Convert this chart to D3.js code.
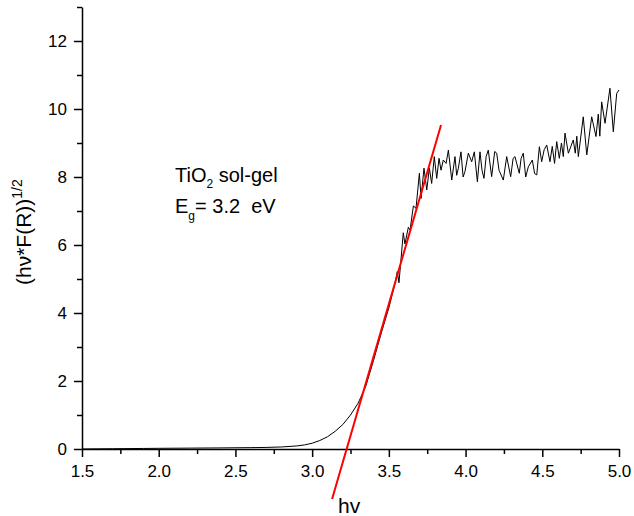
<!DOCTYPE html>
<html lang="en">
<head>
<meta charset="UTF-8">
<script src="https://d3js.org/d3.v7.min.js"></script>
<title>TiO2 band gap</title>
<style>
  body { margin: 0; background: #fff; }
  text { font-family: Arial, "Liberation Sans", sans-serif; fill: #000; }
</style>
</head>
<body>
<svg id="chart" width="634" height="516"></svg>
<script>
// photon energy (eV) and (hv*F(R))^1/2
const curveX = [1.5, 1.6, 1.7, 1.8, 1.9, 2.0, 2.2, 2.4, 2.6, 2.7, 2.8, 2.9, 2.95,
  3.0, 3.05, 3.1, 3.15, 3.2, 3.25, 3.3, 3.35, 3.4, 3.45, 3.5, 3.525,
  3.54, 3.555, 3.566, 3.594, 3.605, 3.627, 3.638, 3.66, 3.677, 3.699, 3.71,
  3.729, 3.747, 3.764, 3.779, 3.796, 3.812, 3.827, 3.84, 3.855, 3.873, 3.888,
  3.91, 3.931, 3.942, 3.953, 3.97, 3.984, 3.996, 4.018, 4.04, 4.057, 4.077, 4.094, 4.107, 4.12,
  4.134, 4.148, 4.17, 4.19, 4.203, 4.218, 4.246, 4.268, 4.294, 4.31, 4.322, 4.35, 4.362, 4.376, 4.392, 4.409,
  4.435, 4.45, 4.464, 4.481, 4.496, 4.512, 4.529, 4.55, 4.565, 4.58, 4.594, 4.611, 4.625, 4.637, 4.648, 4.67, 4.702,
  4.715, 4.725, 4.735, 4.767, 4.79, 4.822, 4.85, 4.865, 4.875, 4.887, 4.909, 4.941, 4.963, 4.985, 5.0];
const curveY = [0.0, 0.005, 0.008, 0.012, 0.016, 0.02, 0.026, 0.032, 0.04, 0.046, 0.06, 0.09, 0.12,
  0.17, 0.25, 0.36, 0.52, 0.72, 1.0, 1.35, 1.85, 2.6, 3.4, 4.15, 4.6,
  4.87, 5.22, 4.89, 6.36, 6.03, 6.52, 6.44, 7.15, 7.08, 8.11, 7.37,
  8.26, 7.62, 8.26, 7.81, 8.6, 7.96, 8.55, 8.2, 8.5, 8.4, 8.79,
  7.91, 8.6, 8.05, 8.26, 8.74, 8.0, 8.16, 8.7, 8.45, 8.74, 7.86, 8.74, 8.2, 7.96,
  8.6, 8.79, 8.01, 8.75, 8.7, 8.2, 7.91, 8.6, 8.01, 8.55, 8.6, 8.11, 8.55, 8.7, 8.0, 8.3,
  8.5, 8.1, 8.06, 8.89, 8.45, 8.8, 8.94, 8.45, 8.9, 8.4, 9.04, 8.55, 9.0, 8.6, 9.29, 8.7, 9.09,
  8.7, 9.2, 8.6, 9.77, 8.65, 9.77, 9.19, 9.85, 9.2, 10.21, 9.58, 10.61, 9.33, 10.46, 10.56];

// linear fit of the absorption edge (Eg = 3.2 eV)
const fitX = [3.13, 3.84];
const fitY = [-1.47, 9.53];

const xTicks = [1.5, 2.0, 2.5, 3.0, 3.5, 4.0, 4.5, 5.0];
const xMinor = [1.75, 2.25, 2.75, 3.25, 3.75, 4.25, 4.75];
const yTicks = [0, 2, 4, 6, 8, 10, 12];
const yMinor = [1, 3, 5, 7, 9, 11, 13];

const svg = d3.select("#chart");
const margin = { top: 7, right: 15, bottom: 67, left: 82 };
const w = 634 - margin.left - margin.right;
const h = 516 - margin.top - margin.bottom;

const x = d3.scaleLinear().domain([1.5, 5.0]).range([margin.left, margin.left + w]);
const y = d3.scaleLinear().domain([0, 13]).range([margin.top + h, margin.top]);

// minor ticks first, then the labelled axes on top
svg.append("g")
  .attr("transform", `translate(0,${margin.top + h})`)
  .call(d3.axisBottom(x).tickValues(xMinor).tickSize(5).tickFormat(""))
  .call(g => g.select(".domain").remove());
svg.append("g")
  .attr("transform", `translate(${margin.left},0)`)
  .call(d3.axisLeft(y).tickValues(yMinor).tickSize(5).tickFormat(""))
  .call(g => g.select(".domain").remove());

const xAxis = svg.append("g")
  .attr("transform", `translate(0,${margin.top + h})`)
  .call(d3.axisBottom(x).tickValues(xTicks).tickSize(8).tickSizeOuter(0)
    .tickPadding(8).tickFormat(d3.format(".1f")));
const yAxis = svg.append("g")
  .attr("transform", `translate(${margin.left},0)`)
  .call(d3.axisLeft(y).tickValues(yTicks).tickSize(8).tickSizeOuter(0)
    .tickPadding(7).tickFormat(d3.format("d")));

svg.selectAll(".tick line, .domain").attr("stroke", "#000").attr("stroke-width", 1.5);
svg.selectAll(".tick text").style("font-size", "17px").attr("fill", "#000");

// data curve
const line = d3.line().x(i => x(curveX[i])).y(i => y(curveY[i]));
svg.append("path")
  .attr("d", line(d3.range(curveX.length)))
  .attr("fill", "none")
  .attr("stroke", "#000")
  .attr("stroke-width", 1);

// red fit line (extends below the axis)
const fitLine = d3.line().x(i => x(fitX[i])).y(i => y(fitY[i]));
svg.append("path")
  .attr("d", fitLine([0, 1]))
  .attr("fill", "none")
  .attr("stroke", "#ff0000")
  .attr("stroke-width", 2);

// y axis title
const yt = svg.append("text")
  .attr("transform", "translate(31,285) rotate(-90)")
  .style("font-size", "21px");
yt.append("tspan").text("(hν*F(R))");
yt.append("tspan").attr("dy", -9).style("font-size", "14px").text("1/2");

// x axis title
svg.append("text")
  .attr("x", 338).attr("y", 513)
  .style("font-size", "21px")
  .text("hv");

// annotation
const t1 = svg.append("text").attr("x", 175).attr("y", 182).style("font-size", "20px");
t1.append("tspan").text("TiO");
t1.append("tspan").attr("dy", 6).style("font-size", "12px").text("2");
t1.append("tspan").attr("dy", -6).text(" sol-gel");

const t2 = svg.append("text").attr("x", 175).attr("y", 213)
  .style("font-size", "20px").style("white-space", "pre");
t2.append("tspan").text("E");
t2.append("tspan").attr("dy", 7).style("font-size", "12px").text("g");
t2.append("tspan").attr("dy", -7).text("= 3.2  eV");
</script>
</body>
</html>
